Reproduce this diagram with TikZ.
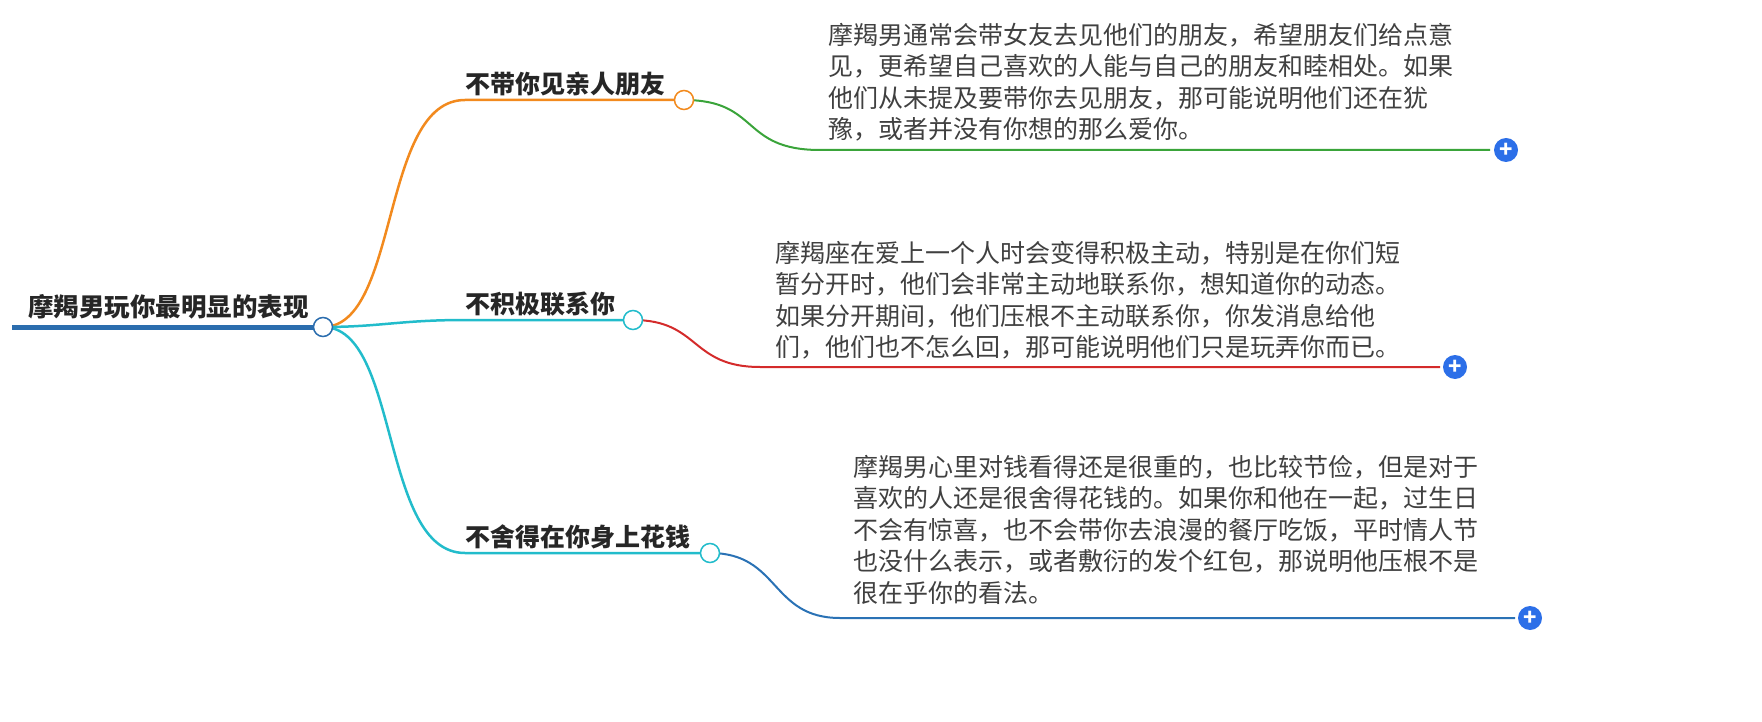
\documentclass[tikz,border=0pt]{standalone}
\usepackage{fontspec}
\setmainfont{Noto Sans CJK SC}
\usetikzlibrary{positioning}
\definecolor{rootblue}{HTML}{2B6DAE}
\definecolor{orng}{HTML}{F28A1E}
\definecolor{grn}{HTML}{3AA43A}
\definecolor{cyn}{HTML}{22BCCB}
\definecolor{rd}{HTML}{D42B2B}
\definecolor{dblue}{HTML}{2A72B5}
\definecolor{plusblue}{HTML}{2C6FE8}
\tikzset{
  label/.style={anchor=south west,inner sep=0pt,font=\fontsize{25pt}{27pt}\selectfont\bfseries,text=black!85},
  para/.style={anchor=north west,inner sep=0pt,align=left,font=\fontsize{25pt}{31.5pt}\selectfont,text=black!75},
  knob/.style={circle,draw=#1,fill=white,line width=1.5pt,minimum size=19pt,inner sep=0pt},
  plus/.style={circle,fill=plusblue,minimum size=24pt,inner sep=0pt,text=white,font=\bfseries\fontsize{22pt}{22pt}\selectfont},
}
\begin{document}
\begin{tikzpicture}[x=1pt,y=-1pt]
\useasboundingbox (0,0) rectangle (1762,722);
% root
\node[label] (root) at (28,319) {\fontsize{25.5pt}{27pt}\selectfont 摩羯男玩你最明显的表现};
\draw[rootblue,line width=5pt] (12,327) -- (322,327);
% branches
\draw[orng,line width=2.5pt] (323,327) .. controls (400,327) and (380,100) .. (465,100) -- (684,100);
\draw[cyn,line width=2.5pt] (323,327) .. controls (380,327) and (400,320) .. (465,320) -- (633,320);
\draw[cyn,line width=2.5pt] (323,327) .. controls (400,327) and (380,553) .. (465,553) -- (710,553);
\node[knob=rootblue] (r) at (323,327) {};
\node[label] (b1) at (465,96) {不带你见亲人朋友};
\node[label] (b2) at (465,316) {不积极联系你};
\node[label] (b3) at (465,549) {不舍得在你身上花钱};
% leaf connectors
\draw[grn,line width=2pt] (684,100) .. controls (760,100) and (740,150) .. (820,150) -- (1490,150);
\draw[rd,line width=2pt] (633,320) .. controls (700,320) and (690,367) .. (760,367) -- (1440,367);
\draw[dblue,line width=2pt] (710,553) .. controls (780,553) and (770,618) .. (840,618) -- (1515,618);
\node[knob=orng] (k1) at (684,100) {};
\node[knob=cyn] (k2) at (633,320) {};
\node[knob=cyn] (k3) at (710,553) {};
\node[plus] (p1) at (1506,150) {+};
\node[plus] (p2) at (1455,367) {+};
\node[plus] (p3) at (1530,618) {+};
% texts
\node[para] (t1) at (828,23) {摩羯男通常会带女友去见他们的朋友，希望朋友们给点意\\见，更希望自己喜欢的人能与自己的朋友和睦相处。如果\\他们从未提及要带你去见朋友，那可能说明他们还在犹\\豫，或者并没有你想的那么爱你。};
\node[para] (t2) at (775,241) {摩羯座在爱上一个人时会变得积极主动，特别是在你们短\\暂分开时，他们会非常主动地联系你，想知道你的动态。\\如果分开期间，他们压根不主动联系你，你发消息给他\\们，他们也不怎么回，那可能说明他们只是玩弄你而已。};
\node[para] (t3) at (853,455) {摩羯男心里对钱看得还是很重的，也比较节俭，但是对于\\喜欢的人还是很舍得花钱的。如果你和他在一起，过生日\\不会有惊喜，也不会带你去浪漫的餐厅吃饭，平时情人节\\也没什么表示，或者敷衍的发个红包，那说明他压根不是\\很在乎你的看法。};
\end{tikzpicture}
\end{document}
